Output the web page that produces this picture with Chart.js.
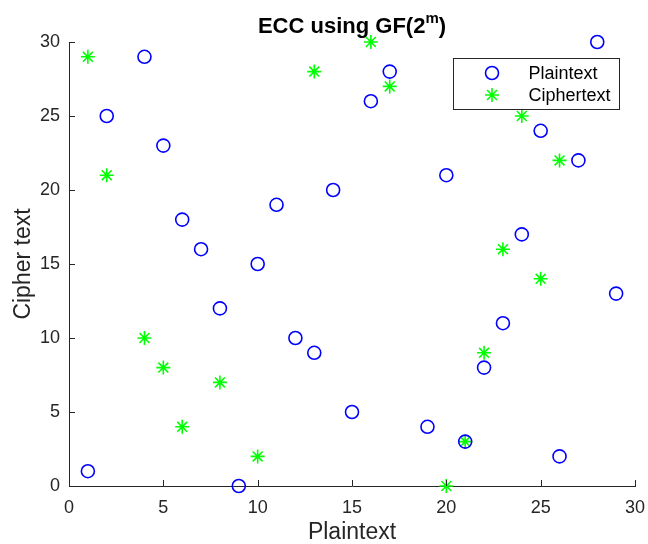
<!DOCTYPE html>
<html>
<head>
<meta charset="utf-8">
<script src="https://cdn.jsdelivr.net/npm/chart.js@4"></script>
<style>
  body { margin: 0; background: #fff; }
  #wrap { width: 648px; height: 544px; }
</style>
</head>
<body>
<div id="wrap"><canvas id="canvas1"></canvas></div>
<script>
/* Data */
/////////////////////////////////////////////////////////////////
const plainX = [1, 2, 4, 5, 6, 7, 8, 9, 10, 11, 12, 13, 14, 15, 16, 17, 19, 20, 21, 22, 23, 24, 25, 26, 27, 28, 29];
const plainY = [1, 25, 29, 23, 18, 16, 12, 0, 15, 19, 10, 9, 20, 5, 26, 28, 4, 21, 3, 8, 11, 17, 24, 2, 22, 30, 13];
const cipherX = [1, 2, 4, 5, 6, 8, 10, 13, 16, 17, 20, 21, 22, 23, 24, 25, 26];
const cipherY = [29, 21, 10, 8, 4, 7, 2, 28, 30, 27, 0, 3, 9, 16, 25, 14, 22];
const tickVals = [0, 5, 10, 15, 20, 25, 30];
const seriesNames = ['Plaintext', 'Ciphertext'];

const FONT = '"Liberation Sans", Arial, sans-serif';
const TXT = '#262626';

function toPoints(xs, ys) {
    let pts = [];
    for (let i = 0; i < xs.length; i++) pts.push({x: xs[i], y: ys[i]});
    return pts;
}

/* Title with superscript m */
/////////////////////////////////////////////////////////////////
const titlePlugin = {
    id: 'titleSup',
    afterDraw(chart) {
        const c = chart.ctx;
        const a = chart.chartArea;
        c.save();
        c.fillStyle = '#000';
        c.textBaseline = 'alphabetic';
        const main = 'ECC using GF(2';
        const sup = 'm';
        const end = ')';
        c.font = 'bold 22px ' + FONT;
        const w1 = c.measureText(main).width;
        const w3 = c.measureText(end).width;
        c.font = 'bold 15px ' + FONT;
        const w2 = c.measureText(sup).width;
        let x = (a.left + a.right) / 2 - (w1 + w2 + w3) / 2;
        const y = 33;
        c.font = 'bold 22px ' + FONT;
        c.fillText(main, x, y);
        c.font = 'bold 15px ' + FONT;
        c.fillText(sup, x + w1, y - 10);
        c.font = 'bold 22px ' + FONT;
        c.fillText(end, x + w1 + w2, y);
        c.restore();
    }
};

/* Inward ticks and the legend box */
/////////////////////////////////////////////////////////////////
const axesPlugin = {
    id: 'inTicks',
    afterDatasetsDraw(chart) {
        const c = chart.ctx;
        const a = chart.chartArea;
        const xs = chart.scales.x, ys = chart.scales.y;
        c.save();
        c.strokeStyle = '#262626';
        c.lineWidth = 1;
        tickVals.forEach(v => {
            let px = Math.round(xs.getPixelForValue(v)) + 0.5;
            c.beginPath(); c.moveTo(px, a.bottom); c.lineTo(px, a.bottom - 6); c.stroke();
            let py = Math.round(ys.getPixelForValue(v)) + 0.5;
            c.beginPath(); c.moveTo(a.left, py); c.lineTo(a.left + 6, py); c.stroke();
        });
        c.restore();

        // legend
        const bx = 453.5, by = 58.5, bw = 166, bh = 51;
        c.save();
        c.fillStyle = '#fff';
        c.fillRect(bx, by, bw, bh);
        c.strokeStyle = '#262626';
        c.lineWidth = 1;
        c.strokeRect(bx, by, bw, bh);
        c.font = '18px ' + FONT;
        c.textBaseline = 'middle';
        chart.data.datasets.forEach((ds, i) => {
            const cy = by + 14.5 + i * 22;
            c.strokeStyle = ds.borderColor;
            c.fillStyle = ds.backgroundColor;
            c.lineWidth = ds.pointBorderWidth;
            Chart.helpers.drawPoint(c, {
                pointStyle: ds.pointStyle,
                radius: ds.pointRadius,
                borderWidth: ds.pointBorderWidth
            }, bx + 38.5, cy);
            c.fillStyle = '#000';
            c.fillText(seriesNames[i], bx + 75, cy + 1);
        });
        c.restore();
    }
};

const ctx = document.getElementById('canvas1');
const chart1 = new Chart(ctx, {
    type: 'scatter',
    data: {
        datasets: [
            {
                label: seriesNames[0],
                data: toPoints(plainX, plainY),
                pointStyle: 'circle',
                pointRadius: 6.5,
                pointBorderWidth: 1.6,
                borderColor: '#0000ff',
                backgroundColor: 'rgba(0,0,0,0)',
                clip: false
            },
            {
                label: seriesNames[1],
                data: toPoints(cipherX, cipherY),
                pointStyle: 'star',
                pointRadius: 7,
                pointBorderWidth: 1.6,
                borderColor: '#00ff00',
                backgroundColor: '#00ff00',
                clip: false
            }
        ]
    },
    options: {
        responsive: true,
        maintainAspectRatio: false,
        animation: false,
        layout: { padding: { left: 6, right: 13, top: 42, bottom: 0 } },
        plugins: {
            legend: { display: false },
            title: { display: false },
            tooltip: { enabled: false }
        },
        scales: {
            x: {
                type: 'linear',
                min: 0, max: 30,
                afterFit(s) { s.height = 58; s.paddingLeft = 0; s.paddingRight = 0; },
                afterBuildTicks(s) { s.ticks = tickVals.map(v => ({value: v})); },
                grid: { display: false, drawTicks: false },
                border: { display: true, color: '#262626', width: 1 },
                ticks: { color: TXT, font: { family: FONT, size: 18 }, padding: 11, maxRotation: 0 },
                title: { display: true, text: 'Plaintext', color: TXT, font: { family: FONT, size: 23, lineHeight: 1 }, padding: { top: 0, bottom: 0 } }
            },
            y: {
                type: 'linear',
                min: 0, max: 30,
                afterFit(s) { s.width = 63; },
                afterBuildTicks(s) { s.ticks = tickVals.map(v => ({value: v})); },
                grid: { display: false, drawTicks: false },
                border: { display: true, color: '#262626', width: 1 },
                ticks: { color: TXT, font: { family: FONT, size: 18 }, padding: 9 },
                title: { display: true, text: 'Cipher text', color: TXT, font: { family: FONT, size: 23 }, padding: { bottom: 0 } }
            }
        }
    },
    plugins: [titlePlugin, axesPlugin]
});
</script>
</body>
</html>
